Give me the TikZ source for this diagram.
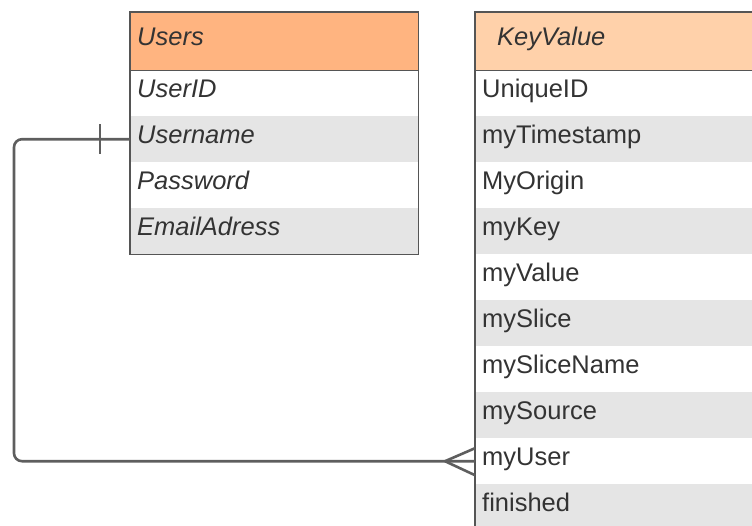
\documentclass[tikz,border=0pt]{standalone}
\usepackage{fontspec}
\setmainfont{Liberation Sans}
\usetikzlibrary{calc}
\definecolor{border}{HTML}{555555}
\definecolor{hdrA}{HTML}{FFB480}
\definecolor{hdrB}{HTML}{FFD1AA}
\definecolor{rowgray}{HTML}{E5E5E5}
\definecolor{txt}{HTML}{333333}
\definecolor{conn}{HTML}{5E5E5E}
\tikzset{
  cell/.style={rectangle, anchor=north west, minimum height=46pt, inner xsep=7pt, inner ysep=0pt,
    text height=17pt, text depth=9pt, align=left, text=txt,
    font=\fontsize{25.5}{30}\selectfont},
  ucell/.style={cell, text width=274pt, minimum width=288pt, font=\fontsize{25.5}{30}\selectfont\itshape},
  kcell/.style={cell, text width=306pt, minimum width=320pt},
  hdr/.style={minimum height=58pt},
  gray/.style={fill=rowgray},
  tbl/.style={draw=border, line width=1.2pt},
  link/.style={draw=conn, line width=2.6pt},
}
\begin{document}
\begin{tikzpicture}[x=1pt,y=-1pt]
\useasboundingbox (0,0) rectangle (752,525);
\clip (0,0) rectangle (752,525);
% Users table
\node[ucell, hdr, fill=hdrA] (u0) at (130,12) {Users};
\node[ucell] (u1) at (130,70) {UserID};
\node[ucell, gray] (u2) at (130,116) {Username};
\node[ucell] (u3) at (130,162) {Password};
\node[ucell, gray] (u4) at (130,208) {EmailAdress};
\draw[tbl] (u0.north west) rectangle (u4.south east);
\draw[tbl] (u0.south west) -- (u0.south east);
% KeyValue table
\node[kcell, hdr, fill=hdrB, font=\fontsize{25.5}{30}\selectfont\itshape, inner xsep=22pt, text width=276pt] (k0) at (475,12) {KeyValue};
\node[kcell] (k1) at (475,70) {UniqueID};
\node[kcell, gray] (k2) at (475,116) {myTimestamp};
\node[kcell] (k3) at (475,162) {MyOrigin};
\node[kcell, gray] (k4) at (475,208) {myKey};
\node[kcell] (k5) at (475,254) {myValue};
\node[kcell, gray] (k6) at (475,300) {mySlice};
\node[kcell] (k7) at (475,346) {mySliceName};
\node[kcell, gray] (k8) at (475,392) {mySource};
\node[kcell] (k9) at (475,438) {myUser};
\node[kcell, gray] (k10) at (475,484) {finished};
\draw[tbl] (k0.north west) rectangle (k10.south east);
\draw[tbl] (k0.south west) -- (k0.south east);
% connector
\coordinate (cl) at (14,0);
\draw[link, rounded corners=8pt] (u2.west) -- (u2.west -| cl) -- (k9.west -| cl) -- (k9.west);
\draw[link] ($(u2.west)+(-30,-15)$) -- ($(u2.west)+(-30,15)$);
\draw[link] ($(k9.west)+(-30,0)$) -- ($(k9.west)+(0,-13)$);
\draw[link] ($(k9.west)+(-30,0)$) -- ($(k9.west)+(0,14)$);
\end{tikzpicture}
\end{document}
